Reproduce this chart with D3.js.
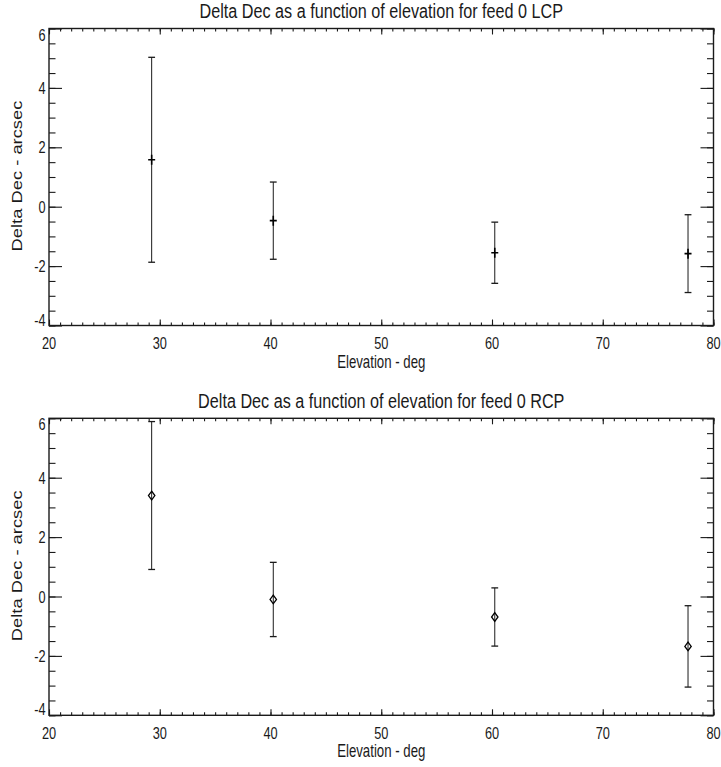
<!DOCTYPE html>
<html>
<head>
<meta charset="utf-8">
<script src="https://cdn.jsdelivr.net/npm/d3@7"></script>
<style>
  html, body { margin: 0; padding: 0; background: #fff; }
  svg { display: block; }
  text { font-family: "Liberation Sans", Arial, Helvetica, sans-serif; fill: #1a1a1a; }
</style>
</head>
<body>
<svg id="chart" width="721" height="767"></svg>
<script>
// Elevation of each pointing measurement (deg)
const elevation = [29.27, 40.25, 60.25, 77.7];

// Feed 0 LCP: Delta Dec and its 1-sigma error (arcsec)
const lcpDelta = [1.58, -0.47, -1.55, -1.58];
const lcpError = [3.45, 1.30, 1.03, 1.31];

// Feed 0 RCP: Delta Dec and its 1-sigma error (arcsec)
const rcpDelta = [3.40, -0.10, -0.69, -1.68];
const rcpError = [2.49, 1.25, 0.98, 1.37];

const xTicks = [20, 30, 40, 50, 60, 70, 80];
const yTicks = [-4, -2, 0, 2, 4, 6];
const xDomain = [20, 80];
const yDomain = [-4, 6];

const panels = [
  { title: "Delta Dec as a function of elevation for feed 0 LCP", values: lcpDelta, errors: lcpError, symbol: "plus" },
  { title: "Delta Dec as a function of elevation for feed 0 RCP", values: rcpDelta, errors: rcpError, symbol: "diamond" }
];

const svg = d3.select("#chart");
const ink = "#1a1a1a";
const stretch = 1.33;          // glyphs are taller than they are wide
const left = 49, right = 713.5, plotH = 297;
const tops = [28.5, 418.3];

const x = d3.scaleLinear().domain(xDomain).range([left, right]);

// Horizontal text with compressed glyph width
function hText(g, px, py, str, size, anchor, sx) {
  g.append("g")
    .attr("transform", `translate(${px},${py}) scale(${sx || 1 / stretch},1)`)
    .append("text")
    .attr("text-anchor", anchor)
    .attr("font-size", size)
    .text(str);
}

panels.forEach((p, i) => {
  const top = tops[i], bottom = top + plotH;
  const y = d3.scaleLinear().domain(yDomain).range([bottom, top]);
  const g = svg.append("g");

  // Minor and major ticks on all four sides, pointing inward
  const xMinor = d3.range(xDomain[0], xDomain[1] + 0.001, 1);
  const yMinor = d3.range(yDomain[0], yDomain[1] + 0.001, 0.5);
  const tickStyle = sel => {
    sel.select(".domain").remove();
    sel.selectAll("line").attr("stroke", ink).attr("stroke-width", 1.1);
    sel.selectAll("text").remove();
  };
  const axes = [
    [d3.axisBottom(x).tickValues(xMinor).tickSize(-3), `translate(0,${bottom})`],
    [d3.axisBottom(x).tickValues(xTicks).tickSize(-6), `translate(0,${bottom})`],
    [d3.axisTop(x).tickValues(xMinor).tickSize(-3), `translate(0,${top})`],
    [d3.axisTop(x).tickValues(xTicks).tickSize(-6), `translate(0,${top})`],
    [d3.axisLeft(y).tickValues(yMinor).tickSize(-6.5), `translate(${left},0)`],
    [d3.axisLeft(y).tickValues(yTicks).tickSize(-13), `translate(${left},0)`],
    [d3.axisRight(y).tickValues(yMinor).tickSize(-6.5), `translate(${right},0)`],
    [d3.axisRight(y).tickValues(yTicks).tickSize(-13), `translate(${right},0)`]
  ];
  axes.forEach(([ax, tr]) => g.append("g").attr("transform", tr).call(ax).call(tickStyle));

  // Plot frame
  g.append("rect")
    .attr("x", left).attr("y", top)
    .attr("width", right - left).attr("height", plotH)
    .attr("fill", "none").attr("stroke", ink).attr("stroke-width", 1.4);

  // Tick labels
  xTicks.forEach(v => hText(g, x(v), bottom + 23.5, String(v), 17, "middle"));
  yTicks.forEach(v => {
    const cy = Math.min(Math.max(y(v), top + 6), bottom - 6);
    hText(g, left - 3.5, cy + 6, String(v), 17, "end");
  });

  // Title and axis titles
  hText(g, (left + right) / 2, top - 10.3, p.title, 20, "middle", 0.81);
  hText(g, (left + right) / 2, bottom + 42, "Elevation - deg", 17.6, "middle");
  g.append("g")
    .attr("transform", `translate(22,${top + plotH / 2 - 1}) rotate(-90) scale(${stretch},1)`)
    .append("text")
    .attr("text-anchor", "middle")
    .attr("font-size", 13.8)
    .text("Delta Dec - arcsec");

  // Error bars
  const pts = elevation.map((e, k) => ({ e, v: p.values[k], s: p.errors[k] }));
  const bars = g.append("g").attr("stroke", ink).attr("stroke-width", 1);
  bars.selectAll("line.stem").data(pts).join("line")
    .attr("x1", d => x(d.e)).attr("x2", d => x(d.e))
    .attr("y1", d => y(d.v + d.s)).attr("y2", d => y(d.v - d.s));
  bars.selectAll("line.capHi").data(pts).join("line")
    .attr("x1", d => x(d.e) - 3.4).attr("x2", d => x(d.e) + 3.4)
    .attr("y1", d => y(d.v + d.s)).attr("y2", d => y(d.v + d.s))
    .attr("stroke-width", 1.3);
  bars.selectAll("line.capLo").data(pts).join("line")
    .attr("x1", d => x(d.e) - 3.4).attr("x2", d => x(d.e) + 3.4)
    .attr("y1", d => y(d.v - d.s)).attr("y2", d => y(d.v - d.s))
    .attr("stroke-width", 1.3);

  // Point symbols
  const sym = g.append("g").attr("stroke", "#000").attr("fill", "none");
  if (p.symbol === "plus") {
    sym.selectAll("path").data(pts).join("path")
      .attr("stroke-width", 1.6)
      .attr("d", d => {
        const cx = x(d.e), cy = y(d.v);
        return `M${cx - 3.5},${cy}H${cx + 3.5}M${cx},${cy - 5}V${cy + 5}`;
      });
  } else {
    sym.selectAll("path").data(pts).join("path")
      .attr("stroke-width", 1.3)
      .attr("d", d => {
        const cx = x(d.e), cy = y(d.v);
        return `M${cx},${cy - 4.3}L${cx + 3.2},${cy}L${cx},${cy + 4.3}L${cx - 3.2},${cy}Z`;
      });
  }
});
</script>
</body>
</html>
